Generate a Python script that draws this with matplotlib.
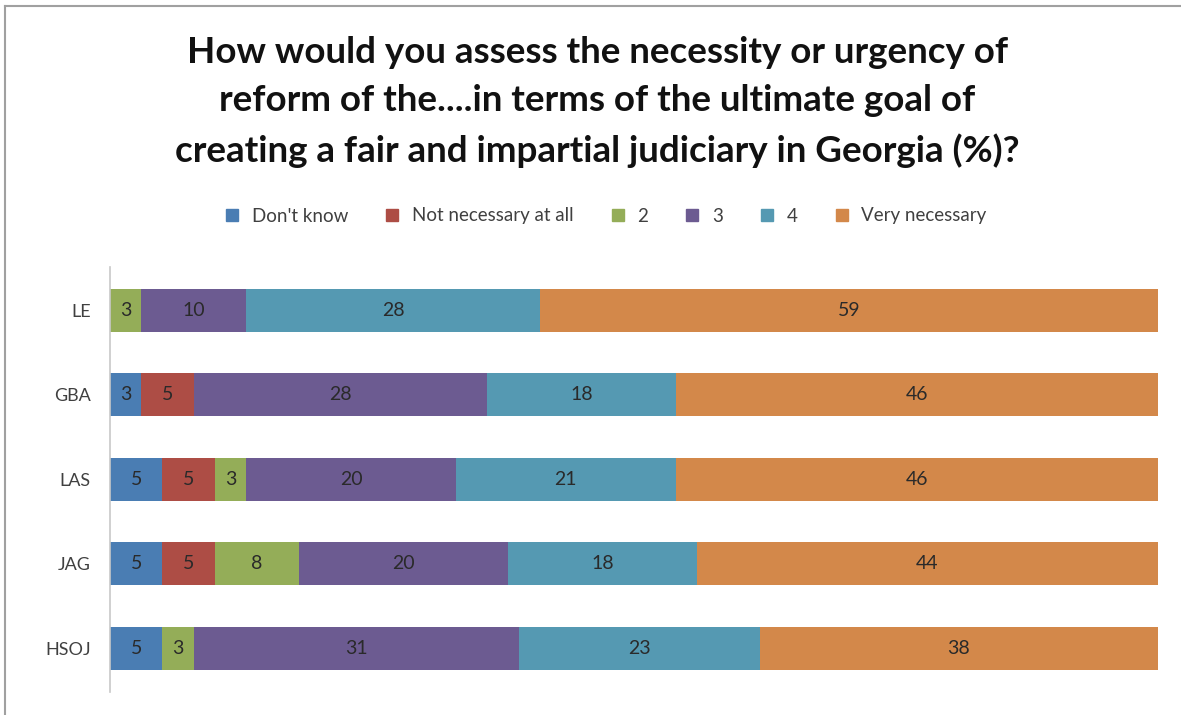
import matplotlib.pyplot as plt
import numpy as np
from matplotlib.lines import Line2D

# survey data (% per group)
groups = ["LE", "GBA", "LAS", "JAG", "HSOJ"]
series = ["Don't know", "Not necessary at all", "2", "3", "4", "Very necessary"]
dont_know = [0, 3, 5, 5, 5]
not_necessary = [0, 5, 5, 5, 0]
two = [3, 0, 3, 8, 3]
three = [10, 28, 20, 20, 31]
four = [28, 18, 21, 18, 23]
very = [59, 46, 46, 44, 38]

colors = ["#4a7db3", "#ad4d45", "#94ad58", "#6c5b91", "#5599b2", "#d3884a"]

plt.rcParams['font.family'] = ['Lato', 'DejaVu Sans']

fig = plt.figure(figsize=(11.81, 7.15), dpi=100)
ax = fig.add_axes([110/1181, 1 - 692/715, (1158 - 110)/1181, (692 - 267)/715])

data = np.array([dont_know, not_necessary, two, three, four, very], dtype=float)
ypos = np.arange(len(groups))
left = np.zeros(len(groups))
for vals, name, c in zip(data, series, colors):
    bars = ax.barh(ypos, vals, left=left, height=0.51, color=c, label=name, edgecolor='none')
    for b, v in zip(bars, vals):
        if v > 0:
            ax.text(b.get_x() + b.get_width()/2, b.get_y() + b.get_height()/2, "%d" % v,
                    ha='center', va='center', fontsize=14, color='#2a2a2a')
    left += vals

ax.set_xlim(0, 100)
ax.set_ylim(4.52, -0.51)
ax.set_yticks(ypos)
ax.set_yticklabels(groups, fontsize=13, color='#404040')
ax.tick_params(axis='y', length=0, pad=14)
ax.set_xticks([])
for s in ['top', 'right', 'bottom']:
    ax.spines[s].set_visible(False)
ax.spines['left'].set_color('#c8c8c8')
ax.spines['left'].set_linewidth(1.2)

fig.text(0.506, 1 - 102/715,
         "How would you assess the necessity or urgency of\n"
         "reform of the....in terms of the ultimate goal of\n"
         "creating a fair and impartial judiciary in Georgia (%)?",
         ha='center', va='center', fontsize=26.5, fontweight='bold', color='#111111',
         linespacing=1.55)

handles = [Line2D([0], [0], marker='s', linestyle='none', markersize=8.5,
                  markerfacecolor=c, markeredgecolor=c) for c in colors]
fig.legend(handles, series, loc='center', bbox_to_anchor=(0.508, 1 - 216/715), ncol=6,
           frameon=False, fontsize=13.5, handletextpad=0.05, columnspacing=1.35,
           labelcolor='#404040')

# outer frame (top and left edges visible)
fig.add_artist(Line2D([5/1181, 1], [1 - 6/715, 1 - 6/715], color='#a0a0a0', linewidth=1.5))
fig.add_artist(Line2D([5/1181, 5/1181], [0, 1 - 6/715], color='#a0a0a0', linewidth=1.5))

fig.savefig("out.png", dpi=100)
